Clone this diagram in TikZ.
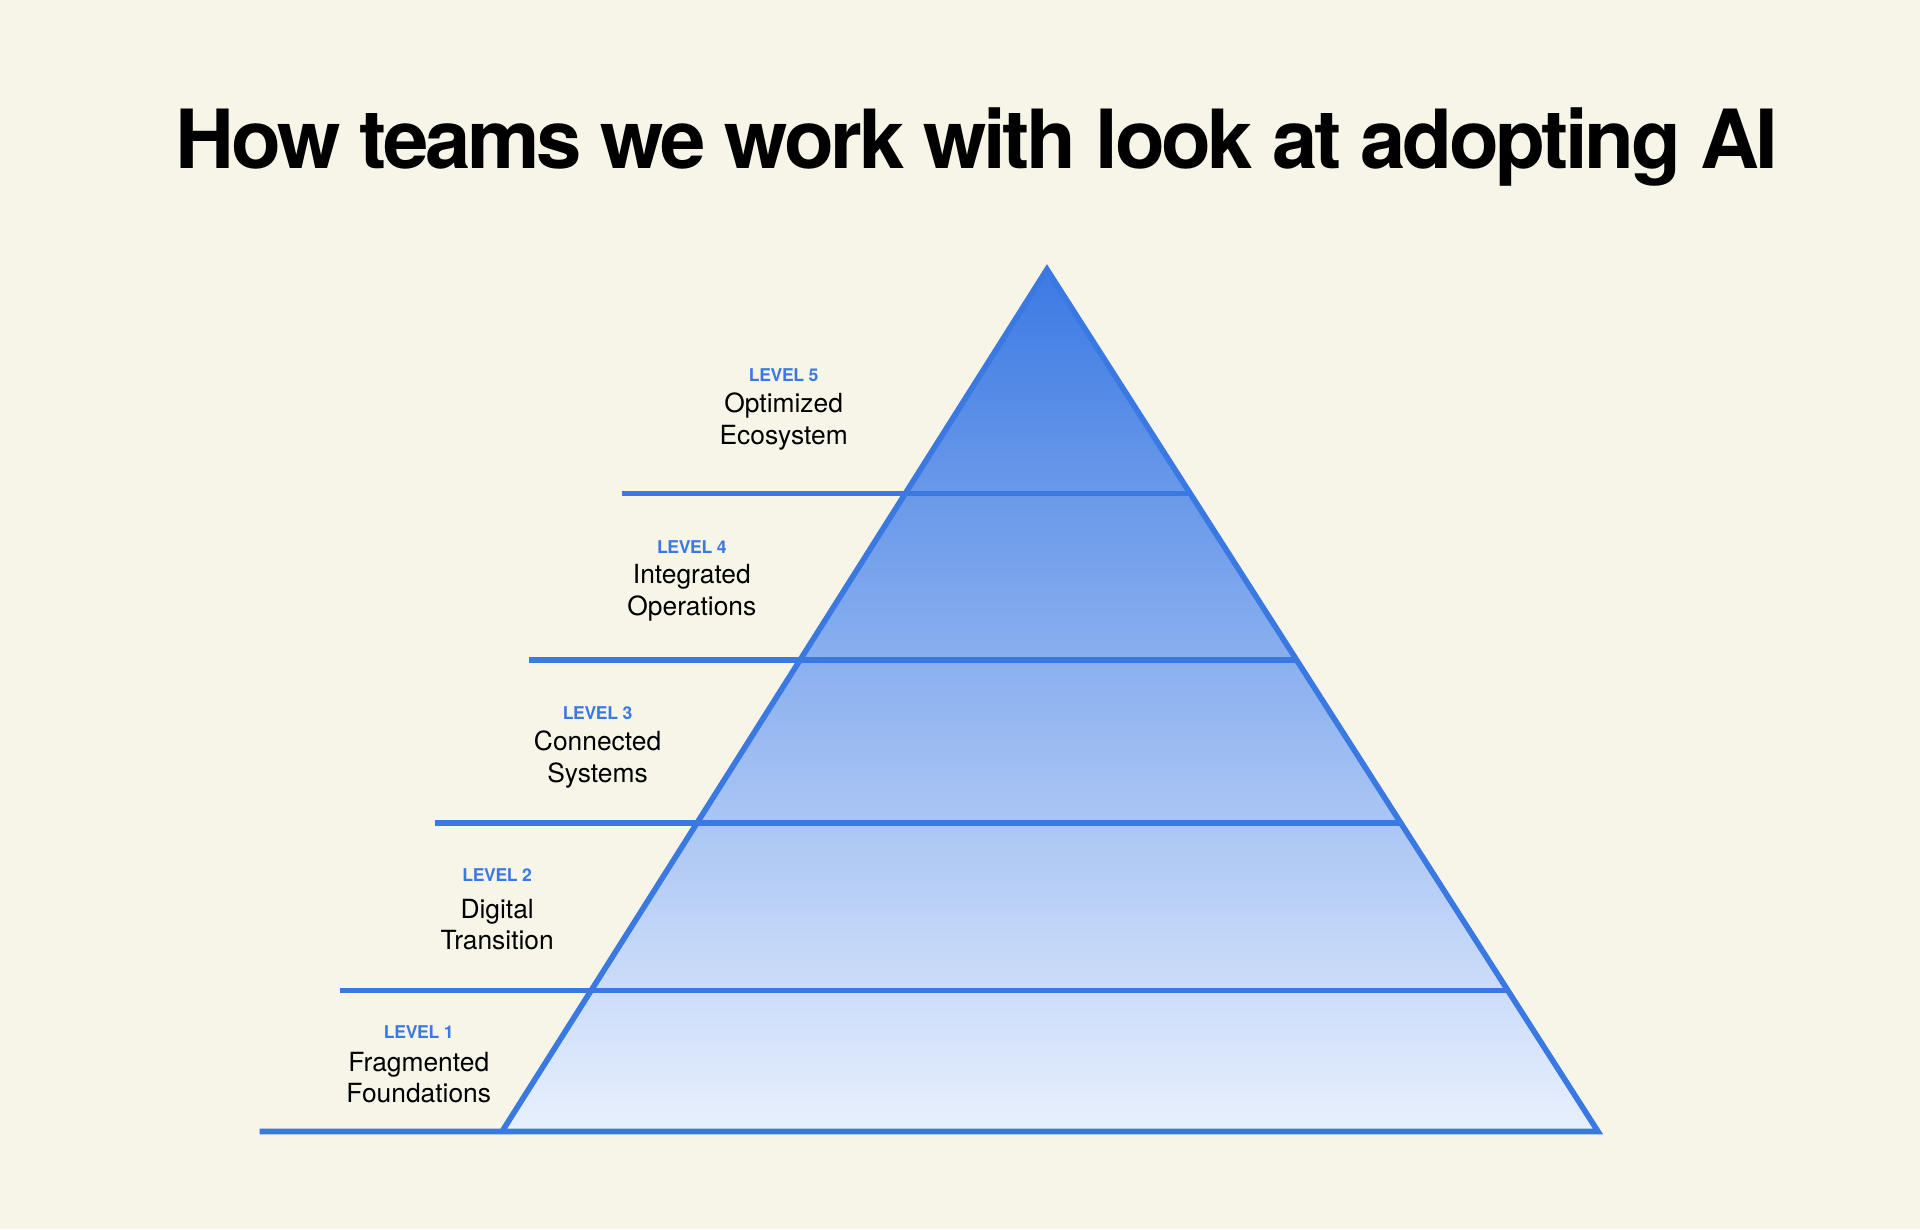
\documentclass[tikz,border=0pt]{standalone}
\usepackage{fontspec}
\setmainfont{TeX Gyre Heros}
\newfontfamily\headfont[LetterSpace=-4.2]{TeX Gyre Heros}
\newfontfamily\tagfont[LetterSpace=-2]{TeX Gyre Heros}
\usetikzlibrary{positioning}
\definecolor{bgcream}{RGB}{247,244,232}
\definecolor{tierblue}{RGB}{59,121,226}
\definecolor{tiertop}{RGB}{60,122,227}
\definecolor{tierbottom}{RGB}{232,240,253}
\tikzstyle{ledge} = [draw=tierblue, line width=1.6pt]
\tikzset{
  heading/.style={
    font=\headfont\bfseries\fontsize{23.2}{26}\selectfont,
    anchor=base,
    inner sep=0pt},
  levelname/.style={
    font=\tagfont\bfseries\fontsize{5}{5}\selectfont,
    text=tierblue,
    inner sep=0pt},
  tiername/.style={
    font=\fontsize{7.5}{9}\selectfont,
    align=center,
    inner sep=0pt},
  pyramid/.style={top color=tiertop, bottom color=tierbottom},
}

\begin{document}
\begin{tikzpicture}[x=0.012245cm, y=-0.012245cm]
    \fill[bgcream] (0,0) rectangle (1568,1004);
    % Place nodes
    \node [heading] (title) at (798,138) {How teams we work with look at adopting AI};
    \coordinate (apex) at (855,220);
    \coordinate (baseL) at (410,924);
    \coordinate (baseR) at (1305,924);
    \coordinate (floor) at (212,924);
    \coordinate (shelfFive) at (508,403);
    \coordinate (edgeFive) at (972,403);
    \coordinate (shelfFour) at (432,539);
    \coordinate (edgeFour) at (1059,539);
    \coordinate (shelfThree) at (355,672);
    \coordinate (edgeThree) at (1144,672);
    \coordinate (shelfTwo) at (278,809);
    \coordinate (edgeTwo) at (1231,809);
    \node [levelname] (lvlFive) at (640,306) {LEVEL 5};
    \node [tiername] (tierFive) at (640,344) {Optimized\\Ecosystem};
    \node [levelname] (lvlFour) at (565,447) {LEVEL 4};
    \node [tiername] (tierFour) at (565,484) {Integrated\\Operations};
    \node [levelname] (lvlThree) at (488,582) {LEVEL 3};
    \node [tiername] (tierThree) at (488,620) {Connected\\Systems};
    \node [levelname] (lvlTwo) at (406,715) {LEVEL 2};
    \node [tiername] (tierTwo) at (406,755) {Digital\\Transition};
    \node [levelname] (lvlOne) at (342,843) {LEVEL 1};
    \node [tiername] (tierOne) at (342,880) {Fragmented\\Foundations};
    % Draw edges
    \shade [pyramid] (apex) -- (baseL) -- (baseR) -- cycle;
    \path [ledge] (shelfFive) -- (edgeFive);
    \path [ledge] (shelfFour) -- (edgeFour);
    \path [ledge] (shelfThree) -- (edgeThree);
    \path [ledge] (shelfTwo) -- (edgeTwo);
    \path [ledge] (floor) -- (baseR) -- (apex) -- (baseL);
\end{tikzpicture}
\end{document}
